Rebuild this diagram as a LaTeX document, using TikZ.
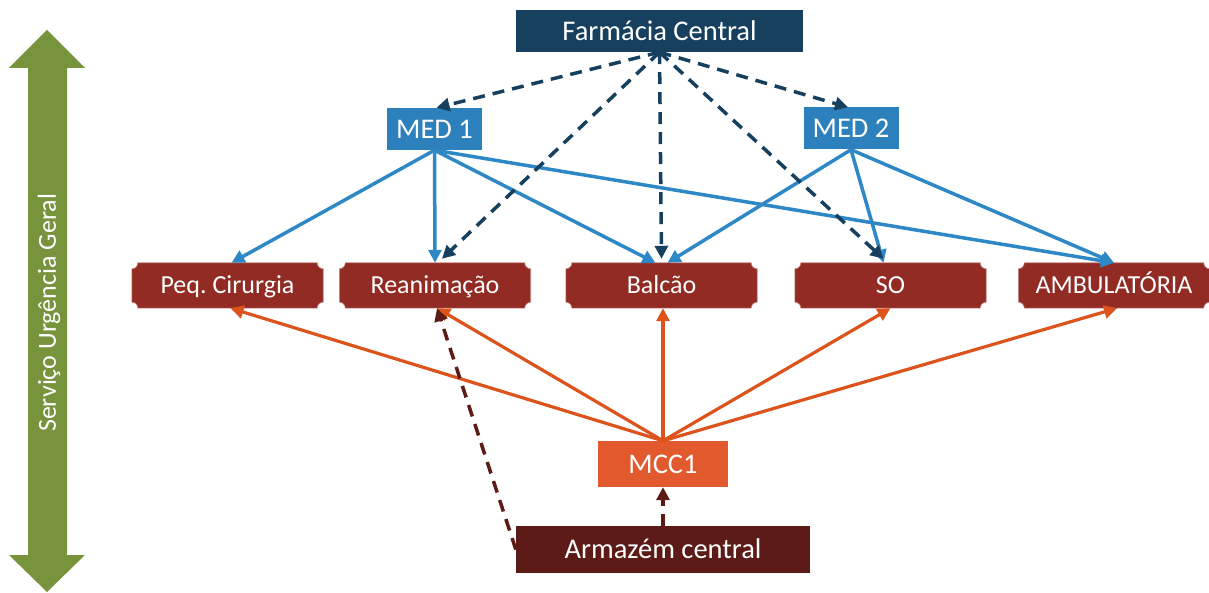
\documentclass[tikz,border=0pt]{standalone}
\usepackage{fontspec}
\setmainfont{Carlito}
\usetikzlibrary{arrows.meta,calc,backgrounds}

\definecolor{farm}{HTML}{17405F}
\definecolor{medfill}{HTML}{2C80BC}
\definecolor{medline}{HTML}{2E88C6}
\definecolor{unitfill}{HTML}{912B24}
\definecolor{unitedge}{HTML}{C98A85}
\definecolor{mccfill}{HTML}{E2592D}
\definecolor{mccline}{HTML}{DC531C}
\definecolor{store}{HTML}{5C1B16}
\definecolor{band}{HTML}{77933C}

\newcommand\nr{6pt}
% rectangle with concave (notched) corners behind a node
\newcommand\notchfill[1]{%
  \filldraw[fill=unitfill, draw=unitedge, line width=0.6pt]
    ($(#1.north west)+(0,-\nr)$) arc[start angle=-90,end angle=0,radius=\nr]
    -- ($(#1.north east)+(-\nr,0)$) arc[start angle=180,end angle=270,radius=\nr]
    -- ($(#1.south east)+(0,\nr)$) arc[start angle=90,end angle=180,radius=\nr]
    -- ($(#1.south west)+(\nr,0)$) arc[start angle=0,end angle=90,radius=\nr]
    -- cycle;}

\tikzset{
  lbl/.style={text=white, inner sep=0pt, text height=21.4pt, text depth=3pt,
    font=\fontsize{28.5}{34}\selectfont},
  farmbox/.style={lbl, fill=farm, minimum width=287pt, minimum height=42pt},
  medbox/.style={lbl, fill=medfill, minimum width=95pt, minimum height=42pt},
  unitbox/.style={text=white, inner sep=0pt, font=\fontsize{26}{31}\selectfont,
    text height=19.5pt, text depth=2.75pt, minimum width=191pt, minimum height=45pt},
  mccbox/.style={lbl, fill=mccfill, minimum width=130pt, minimum height=46pt},
  storebox/.style={lbl, fill=store, minimum width=294pt, minimum height=47pt},
  tip/.style={-{Triangle[length=13pt,width=13pt]}},
  supply/.style={tip, draw=farm, line width=3.5pt, dash pattern=on 12pt off 8pt},
  medlink/.style={tip, draw=medline, line width=3.5pt},
  mcclink/.style={tip, draw=mccline, line width=3.2pt},
  storelink/.style={tip, draw=store, line width=3.5pt, dash pattern=on 12pt off 8pt},
}

\begin{document}
\frenchspacing
\begin{tikzpicture}[x=1pt,y=1pt]
\useasboundingbox (0,0) rectangle (1209,592);

% vertical double arrow for the service
\fill[band] (47,562) -- (85,524) -- (67,524) -- (67,37) -- (85,37) -- (47,0)
  -- (9,37) -- (28,37) -- (28,524) -- (9,524) -- cycle;
\node[text=white, rotate=90, inner sep=0pt, font=\fontsize{26}{31}\selectfont]
  (sug) at (49,279) {Serviço Urgência Geral};

% boxes
\node[farmbox] (farm) at (659.5,561) {Farmácia Central};
\node[medbox] (med1) at (434.5,463) {MED 1};
\node[medbox] (med2) at (851,463.5) {MED 2};

\node[unitbox] (peq) at (227.5,306.5) {Peq. Cirurgia};
\node[unitbox] (rean) at (435,306.5) {Reanimação};
\node[unitbox] (bal) at (661.5,306.5) {Balcão};
\node[unitbox] (so) at (890.5,306.5) {SO};
\node[unitbox] (amb) at (1114,306.5) {AMBULATÓRIA};

\node[mccbox] (mcc) at (663,128) {MCC1};
\node[storebox] (store) at (663,42.5) {Armazém central};

\begin{scope}[on background layer]
  \notchfill{peq}\notchfill{rean}\notchfill{bal}\notchfill{so}\notchfill{amb}
\end{scope}

% MED links
\draw[medlink] (med1.south) -- ([xshift=4pt]peq.north);
\draw[medlink] (med1.south) -- (rean.north);
\draw[medlink] (med1.south) -- ([xshift=-6pt]bal.north);
\draw[medlink] (med1.south) -- (amb.north);
\draw[medlink] (med2.south) -- ([xshift=6pt]bal.north);
\draw[medlink] (med2.south) -- ([xshift=-7pt]so.north);
\draw[medlink] (med2.south) -- (amb.north);

% Farmácia Central supply
\draw[supply] (farm.south) -- ([xshift=2pt]med1.north);
\draw[supply] (farm.south) -- ([xshift=-3pt]med2.north);
\draw[supply] (farm.south) -- ([xshift=7pt,yshift=4pt]rean.north);
\draw[supply] (farm.south) -- ([yshift=4pt]bal.north);
\draw[supply] (farm.south) -- ([xshift=-7pt,yshift=4pt]so.north);

% MCC1 links
\draw[mcclink] (mcc.north) -- ([xshift=3pt]peq.south);
\draw[mcclink] (mcc.north) -- ([xshift=2pt]rean.south);
\draw[mcclink] (mcc.north) -- ([xshift=1.5pt]bal.south);
\draw[mcclink] (mcc.north) -- (so.south);
\draw[mcclink] (mcc.north) -- ([xshift=3pt]amb.south);

% Armazém central
\draw[storelink] (store.north) -- (mcc.south);
\draw[storelink] (store.west) -- ([xshift=2pt]rean.south);
\end{tikzpicture}
\end{document}
